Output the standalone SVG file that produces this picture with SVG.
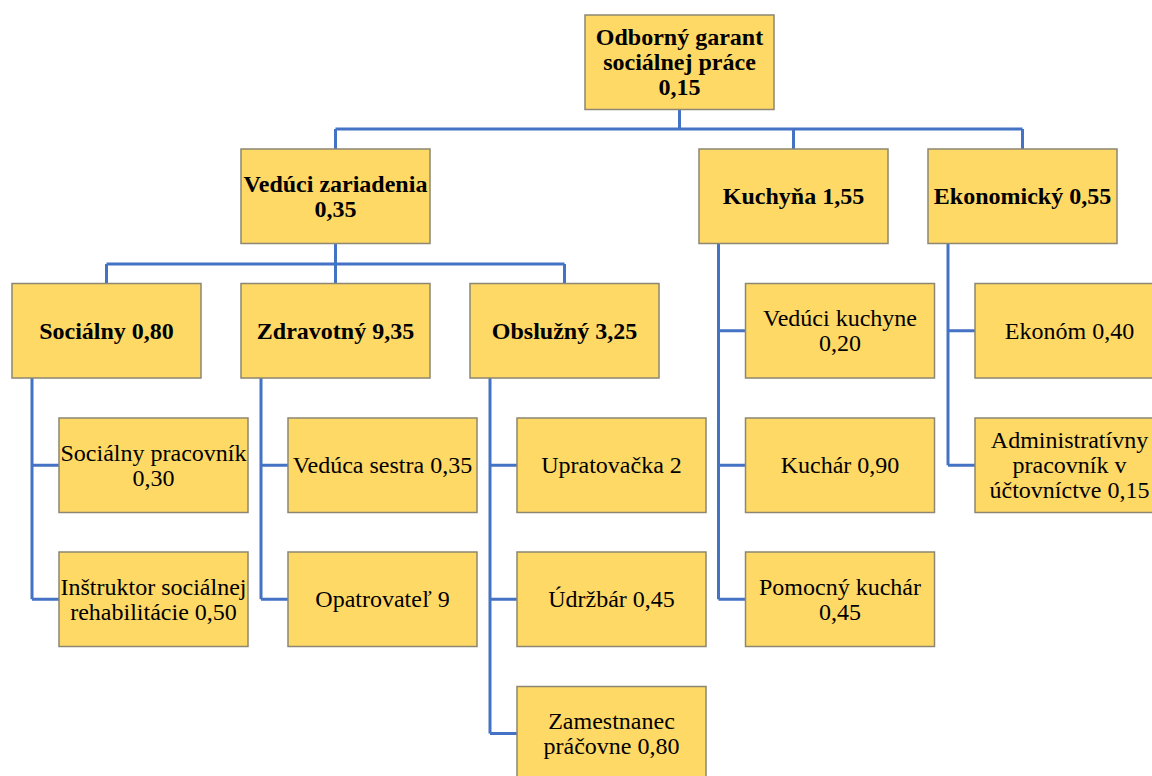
<svg xmlns="http://www.w3.org/2000/svg" width="1152" height="776" viewBox="0 0 1152 776">
<style>
.box{fill:#FFD966;stroke:#8C8672;stroke-width:1.5}
.c{fill:none;stroke:#4472C4;stroke-width:3}
</style>
<rect width="1152" height="776" fill="#fff"/>
<g id="connectors" class="c">
<path d="M679.5 109.5V129M335.5 129H1022.5M335.5 129V149M793.5 129V149M1022.5 129V149"/>
<path d="M335.5 243.5V283.5M106.5 264H564.5M106.5 264V283.5M564.5 264V283.5"/>
<path d="M32 378V599.25M32 465.25H59M32 599.25H59"/>
<path d="M261 378V599.25M261 465.25H288M261 599.25H288"/>
<path d="M490 378V733.5M490 465.25H517M490 599.25H517M490 733.5H517"/>
<path d="M718.5 243.5V599.25M718.5 330.75H745.5M718.5 465.25H745.5M718.5 599.25H745.5"/>
<path d="M948 243.5V465.25M948 330.75H975M948 465.25H975"/>
</g>
<g id="boxes">
<rect id="r-garant" class="box" x="585" y="15" width="189" height="94.5"/>
<rect id="r-veduci" class="box" x="241" y="149" width="189" height="94.5"/>
<rect id="r-kuchyna" class="box" x="699" y="149" width="189" height="94.5"/>
<rect id="r-ekonomicky" class="box" x="928" y="149" width="189" height="94.5"/>
<rect id="r-socialny" class="box" x="12" y="283.5" width="189" height="94.5"/>
<rect id="r-zdravotny" class="box" x="241" y="283.5" width="189" height="94.5"/>
<rect id="r-obsluzny" class="box" x="470" y="283.5" width="189" height="94.5"/>
<rect id="r-soc-prac" class="box" x="59" y="418" width="189" height="94.5"/>
<rect id="r-instruktor" class="box" x="59" y="552" width="189" height="94.5"/>
<rect id="r-sestra" class="box" x="288" y="418" width="189" height="94.5"/>
<rect id="r-opatrovatel" class="box" x="288" y="552" width="189" height="94.5"/>
<rect id="r-upratovacka" class="box" x="517" y="418" width="189" height="94.5"/>
<rect id="r-udrzbar" class="box" x="517" y="552" width="189" height="94.5"/>
<rect id="r-pracovna" class="box" x="517" y="686.5" width="189" height="94.5"/>
<rect id="r-ved-kuch" class="box" x="745.5" y="283.5" width="189" height="94.5"/>
<rect id="r-kuchar" class="box" x="745.5" y="418" width="189" height="94.5"/>
<rect id="r-pom-kuchar" class="box" x="745.5" y="552" width="189" height="94.5"/>
<rect id="r-ekonom" class="box" x="975" y="283.5" width="189" height="94.5"/>
<rect id="r-admin" class="box" x="975" y="418" width="189" height="94.5"/>
</g>
<g id="labels" font-family="Times New Roman" font-size="24" text-anchor="middle" fill="#000">
<g font-weight="bold">
<text x="679.5" y="45.25">Odborný garant</text><text x="679.5" y="70">sociálnej práce</text><text x="679.5" y="94.5">0,15</text>
<text x="335.5" y="191.75">Vedúci zariadenia</text><text x="335.5" y="216.5">0,35</text>
<text x="793.5" y="204.25">Kuchyňa 1,55</text>
<text x="1022.5" y="204.25">Ekonomický 0,55</text>
<text x="106.5" y="338.75">Sociálny 0,80</text>
<text x="335.5" y="338.75">Zdravotný 9,35</text>
<text x="564.5" y="338.75">Obslužný 3,25</text>
</g>
<text x="153.5" y="460.75">Sociálny pracovník</text><text x="153.5" y="485.5">0,30</text>
<text x="153.5" y="594.75">Inštruktor sociálnej</text><text x="153.5" y="619.5">rehabilitácie 0,50</text>
<text x="382.5" y="473.25">Vedúca sestra 0,35</text>
<text x="382.5" y="607.25">Opatrovateľ 9</text>
<text x="611.5" y="473.25">Upratovačka 2</text>
<text x="611.5" y="607.25">Údržbár 0,45</text>
<text x="611.5" y="729">Zamestnanec</text><text x="611.5" y="754">práčovne 0,80</text>
<text x="840" y="326.25">Vedúci kuchyne</text><text x="840" y="351">0,20</text>
<text x="840" y="473.25">Kuchár 0,90</text>
<text x="840" y="594.75">Pomocný kuchár</text><text x="840" y="619.5">0,45</text>
<text x="1069.5" y="338.75">Ekonóm 0,40</text>
<text x="1069.5" y="448.25">Administratívny</text><text x="1069.5" y="473">pracovník v</text><text x="1069.5" y="497.5">účtovníctve 0,15</text>
</g>
</svg>
